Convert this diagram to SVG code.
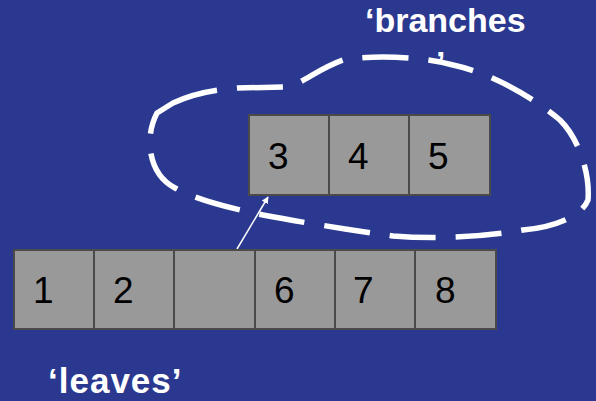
<svg xmlns="http://www.w3.org/2000/svg" width="596" height="401" viewBox="0 0 596 401">
  <style>
    .cell { fill: #999999; stroke: #4a4a4a; stroke-width: 2; }
    .num { font-family: "Liberation Sans", Arial, sans-serif; font-size: 37px; fill: #000000; }
    .label { font-family: "Liberation Sans", Arial, sans-serif; font-weight: bold; font-size: 34px; fill: #ffffff; }
    .outline { fill: none; stroke: #ffffff; stroke-width: 5.5; stroke-dasharray: 46 20; stroke-linejoin: round; }
  </style>
  <defs>
    <marker id="head" viewBox="0 0 10 10" refX="9" refY="5" markerWidth="7" markerHeight="7" orient="auto" markerUnits="userSpaceOnUse">
      <path d="M0,0 L10,5 L0,10 z" fill="#ffffff"/>
    </marker>
  </defs>
  <rect width="596" height="401" fill="#2a398f"/>

  <!-- dashed boundary around the branch group -->
  <g id="connectors">
    <path class="outline" d="M173,103 C190,95 210,90 237,88 L285,87 C300,86 315,70 343,60 C370,55 420,56 453,65 C490,73 530,95 560,120 C580,140 590,175 588,200 C580,220 545,228 523,230 C490,236 440,240 393,236 C350,230 300,222 263,215 C230,208 197,200 175,188 C150,175 143,140 157,113 Z"/>
    <line x1="237" y1="249" x2="268" y2="197" stroke="#ffffff" stroke-width="1.5" marker-end="url(#head)"/>
  </g>

  <g id="branches">
    <rect class="cell" x="249" y="115" width="80" height="80"/>
    <rect class="cell" x="329" y="115" width="80" height="80"/>
    <rect class="cell" x="409" y="115" width="81" height="80"/>
    <text class="num" x="268" y="169">3</text>
    <text class="num" x="348" y="169">4</text>
    <text class="num" x="428" y="169">5</text>
  </g>

  <g id="leaves">
    <rect class="cell" x="14" y="250" width="80" height="79"/>
    <rect class="cell" x="94" y="250" width="80" height="79"/>
    <rect class="cell" x="174" y="250" width="81" height="79"/>
    <rect class="cell" x="255" y="250" width="80" height="79"/>
    <rect class="cell" x="335" y="250" width="80" height="79"/>
    <rect class="cell" x="415" y="250" width="81" height="79"/>
    <text class="num" x="33" y="303">1</text>
    <text class="num" x="113" y="303">2</text>
    <text class="num" x="274" y="303">6</text>
    <text class="num" x="353" y="303">7</text>
    <text class="num" x="435" y="303">8</text>
  </g>

  <g id="branches-label">
    <text class="label" x="365" y="32">‘branches</text>
    <text class="label" x="436" y="75">’</text>
  </g>
  <g id="leaves-label">
    <text class="label" x="48" y="393" style="font-size:35px; letter-spacing:1px">‘leaves’</text>
  </g>
</svg>
